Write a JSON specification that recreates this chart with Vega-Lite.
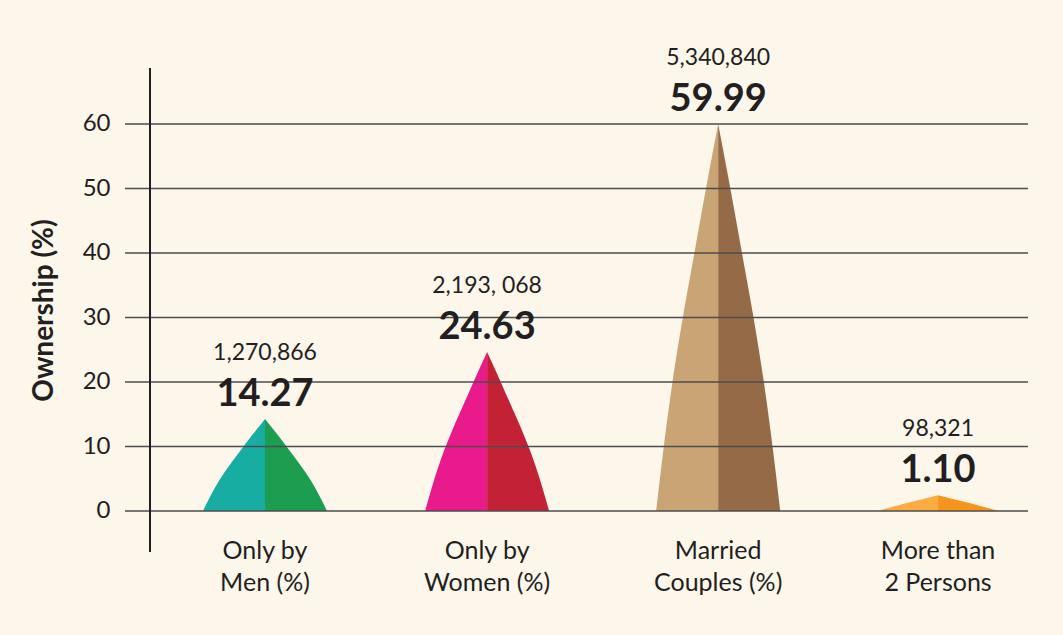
{
  "$schema": "https://vega.github.io/schema/vega-lite/v6.json",
  "width": 903,
  "height": 484,
  "autosize": {"type": "none"},
  "padding": {"left": 125, "top": 68, "right": 35, "bottom": 83},
  "background": "#FDF6EA",
  "config": {"view": {"stroke": null}, "font": "Lato",
    "axis": {"labelFontSize": 24, "titleFontSize": 28}},
  "datasets": {
    "shapes": [
      {"part": "Men-L", "x": 0.7236, "y": 0},
      {"part": "Men-L", "x": 0.754, "y": 2.14},
      {"part": "Men-L", "x": 0.7955, "y": 4.71},
      {"part": "Men-L", "x": 0.8425, "y": 7.135},
      {"part": "Men-L", "x": 0.895, "y": 9.56},
      {"part": "Men-L", "x": 0.9447, "y": 11.84},
      {"part": "Men-L", "x": 1.0, "y": 14.27},
      {"part": "Men-R", "x": 1.0, "y": 14.27},
      {"part": "Men-R", "x": 1.0553, "y": 11.84},
      {"part": "Men-R", "x": 1.105, "y": 9.56},
      {"part": "Men-R", "x": 1.1575, "y": 7.135},
      {"part": "Men-R", "x": 1.2045, "y": 4.71},
      {"part": "Men-R", "x": 1.246, "y": 2.14},
      {"part": "Men-R", "x": 1.2764, "y": 0},
      {"part": "Women-L", "x": 1.7136, "y": 0},
      {"part": "Women-L", "x": 1.744, "y": 3.69},
      {"part": "Women-L", "x": 1.7855, "y": 8.13},
      {"part": "Women-L", "x": 1.8325, "y": 12.32},
      {"part": "Women-L", "x": 1.885, "y": 16.5},
      {"part": "Women-L", "x": 1.9347, "y": 20.44},
      {"part": "Women-L", "x": 1.99, "y": 24.63},
      {"part": "Women-R", "x": 1.99, "y": 24.63},
      {"part": "Women-R", "x": 2.0453, "y": 20.44},
      {"part": "Women-R", "x": 2.095, "y": 16.5},
      {"part": "Women-R", "x": 2.1475, "y": 12.32},
      {"part": "Women-R", "x": 2.1945, "y": 8.13},
      {"part": "Women-R", "x": 2.236, "y": 3.69},
      {"part": "Women-R", "x": 2.2664, "y": 0},
      {"part": "Married-L", "x": 2.7436, "y": 0},
      {"part": "Married-L", "x": 2.774, "y": 9.0},
      {"part": "Married-L", "x": 2.8155, "y": 19.8},
      {"part": "Married-L", "x": 2.8625, "y": 30.0},
      {"part": "Married-L", "x": 2.915, "y": 40.19},
      {"part": "Married-L", "x": 2.9647, "y": 49.79},
      {"part": "Married-L", "x": 3.02, "y": 59.99},
      {"part": "Married-R", "x": 3.02, "y": 59.99},
      {"part": "Married-R", "x": 3.0753, "y": 49.79},
      {"part": "Married-R", "x": 3.125, "y": 40.19},
      {"part": "Married-R", "x": 3.1775, "y": 30.0},
      {"part": "Married-R", "x": 3.2245, "y": 19.8},
      {"part": "Married-R", "x": 3.266, "y": 9.0},
      {"part": "Married-R", "x": 3.2964, "y": 0},
      {"part": "More-L", "x": 3.73, "y": 0},
      {"part": "More-L", "x": 3.8596, "y": 1.225},
      {"part": "More-L", "x": 4.0, "y": 2.45},
      {"part": "More-R", "x": 4.0, "y": 2.45},
      {"part": "More-R", "x": 4.1404, "y": 1.225},
      {"part": "More-R", "x": 4.27, "y": 0}
    ],
    "grid": [{"v": 0}, {"v": 10}, {"v": 20}, {"v": 30}, {"v": 40}, {"v": 50}, {"v": 60}],
    "labels": [
      {"x": 1.0, "top": 14.27, "pct": "14.27", "count": "1,270,866", "cat": "Only by\nMen (%)"},
      {"x": 1.99, "top": 24.63, "pct": "24.63", "count": "2,193, 068", "cat": "Only by\nWomen (%)"},
      {"x": 3.02, "top": 59.99, "pct": "59.99", "count": "5,340,840", "cat": "Married\nCouples (%)"},
      {"x": 4.0, "top": 2.45, "pct": "1.10", "count": "98,321", "cat": "More than\n2 Persons"}
    ]
  },
  "layer": [
    {
      "data": {"name": "shapes"},
      "mark": {"type": "area", "interpolate": "monotone"},
      "encoding": {
        "x": {"field": "x", "type": "quantitative", "scale": {"domain": [0.376, 4.401], "nice": false, "zero": false}, "axis": null},
        "y": {"field": "y", "type": "quantitative", "stack": null,
          "scale": {"domain": [-6.36, 68.68], "nice": false, "zero": false},
          "axis": {"values": [0, 10, 20, 30, 40, 50, 60], "title": "Ownership (%)", "domain": false, "ticks": false, "grid": false,
            "labelFontSize": 24, "labelPadding": 15, "labelColor": "#231F20", "labelFont": "Lato",
            "titleFontSize": 28, "titleFontWeight": "bold", "titleColor": "#231F20", "titleFont": "Lato", "titlePadding": 24}},
        "y2": {"datum": 0},
        "color": {"field": "part", "type": "nominal", "legend": null,
          "scale": {"domain": ["Men-L", "Men-R", "Women-L", "Women-R", "Married-L", "Married-R", "More-L", "More-R"],
            "range": ["#18ADA3", "#1B9E4F", "#E91A8C", "#C32236", "#C9A475", "#946B46", "#FCAC43", "#F7941E"]}}
      }
    },
    {
      "data": {"name": "grid"},
      "mark": {"type": "rule", "color": "#4D4D4F", "strokeWidth": 1.3},
      "encoding": {"y": {"field": "v", "type": "quantitative",
        "axis": {"values": [0, 10, 20, 30, 40, 50, 60], "title": "Ownership (%)", "domain": false, "ticks": false, "grid": false,
            "labelFontSize": 24, "labelPadding": 15, "labelColor": "#231F20", "labelFont": "Lato",
            "titleFontSize": 28, "titleFontWeight": "bold", "titleColor": "#231F20", "titleFont": "Lato", "titlePadding": 24}}}
    },
    {
      "data": {"name": "grid"},
      "mark": {"type": "rule", "color": "#231F20", "strokeWidth": 1.3},
      "encoding": {"x": {"datum": 0.4874, "type": "quantitative", "axis": null}}
    },
    {
      "data": {"name": "labels"},
      "mark": {"type": "text", "font": "Lato", "fontWeight": "bold", "fontSize": 38, "color": "#231F20", "baseline": "alphabetic", "dy": -13},
      "encoding": {
        "x": {"field": "x", "type": "quantitative", "axis": null},
        "y": {"field": "top", "type": "quantitative",
          "axis": {"values": [0, 10, 20, 30, 40, 50, 60], "title": "Ownership (%)", "domain": false, "ticks": false, "grid": false,
            "labelFontSize": 24, "labelPadding": 15, "labelColor": "#231F20", "labelFont": "Lato",
            "titleFontSize": 28, "titleFontWeight": "bold", "titleColor": "#231F20", "titleFont": "Lato", "titlePadding": 24}},
        "text": {"field": "pct"}
      }
    },
    {
      "data": {"name": "labels"},
      "mark": {"type": "text", "font": "Lato", "fontSize": 23, "color": "#231F20", "baseline": "alphabetic", "dy": -59},
      "encoding": {
        "x": {"field": "x", "type": "quantitative", "axis": null},
        "y": {"field": "top", "type": "quantitative",
          "axis": {"values": [0, 10, 20, 30, 40, 50, 60], "title": "Ownership (%)", "domain": false, "ticks": false, "grid": false,
            "labelFontSize": 24, "labelPadding": 15, "labelColor": "#231F20", "labelFont": "Lato",
            "titleFontSize": 28, "titleFontWeight": "bold", "titleColor": "#231F20", "titleFont": "Lato", "titlePadding": 24}},
        "text": {"field": "count"}
      }
    },
    {
      "data": {"name": "labels"},
      "mark": {"type": "text", "font": "Lato", "fontSize": 25, "color": "#231F20", "baseline": "alphabetic", "dy": 48, "lineBreak": "\n", "lineHeight": 32},
      "encoding": {
        "x": {"field": "x", "type": "quantitative", "axis": null},
        "y": {"datum": 0, "type": "quantitative",
          "axis": {"values": [0, 10, 20, 30, 40, 50, 60], "title": "Ownership (%)", "domain": false, "ticks": false, "grid": false,
            "labelFontSize": 24, "labelPadding": 15, "labelColor": "#231F20", "labelFont": "Lato",
            "titleFontSize": 28, "titleFontWeight": "bold", "titleColor": "#231F20", "titleFont": "Lato", "titlePadding": 24}},
        "text": {"field": "cat"}
      }
    }
  ]
}
